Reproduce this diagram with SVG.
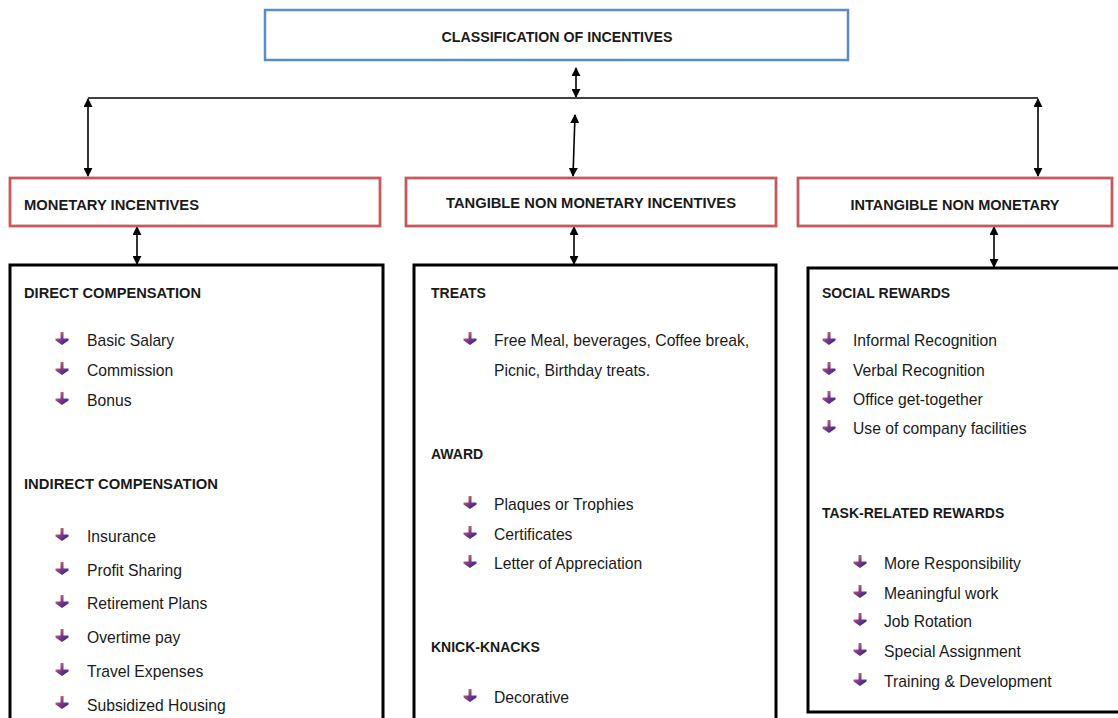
<svg xmlns="http://www.w3.org/2000/svg" width="1118" height="718" viewBox="0 0 1118 718">
<defs>
<marker id="ah" viewBox="0 0 10 10" refX="9" refY="5" markerWidth="9" markerHeight="9" orient="auto-start-reverse" markerUnits="userSpaceOnUse">
<path d="M0,0 L10,5 L0,10 z" fill="#000"/>
</marker>
<linearGradient id="bg" x1="0" y1="0" x2="1" y2="1">
<stop offset="0" stop-color="#f0a030"/>
<stop offset="0.45" stop-color="#8a3a8a"/>
<stop offset="1" stop-color="#202090"/>
</linearGradient>
<symbol id="bul" viewBox="-7 -9 14 14" overflow="visible">
<path d="M-1.5,-9 H1.5 V-2.5 H6.5 V-0.5 L0,4 L-6.5,-0.5 V-2.5 H-1.5 Z" fill="url(#bg)"/>
</symbol>
</defs>
<style>
.h{font-family:"Liberation Sans",Arial,sans-serif;font-weight:bold;font-size:14px;fill:#1a1a1a}
.t{font-family:"Liberation Sans",Arial,sans-serif;font-size:15.7px;fill:#1a1a1a}
.blue{fill:#fff;stroke:#5b8ac9;stroke-width:2.5}
.red{fill:#fff;stroke:#c9585a;stroke-width:2.8}
.blk{fill:#fff;stroke:#000;stroke-width:3}
.c{stroke:#000;stroke-width:1.6;fill:none}
</style>
<rect width="1118" height="718" fill="#fff"/>

<g id="connectors">
<line class="c" x1="88" y1="98" x2="1038" y2="98"/>
<line class="c" x1="576" y1="68" x2="576" y2="97" marker-start="url(#ah)" marker-end="url(#ah)"/>
<line class="c" x1="88" y1="99" x2="88" y2="176" marker-start="url(#ah)" marker-end="url(#ah)"/>
<line class="c" x1="1038" y1="99" x2="1038" y2="176" marker-start="url(#ah)" marker-end="url(#ah)"/>
<line class="c" x1="575" y1="115" x2="573" y2="176" marker-start="url(#ah)" marker-end="url(#ah)"/>
<line class="c" x1="137" y1="227" x2="137" y2="264" marker-start="url(#ah)" marker-end="url(#ah)"/>
<line class="c" x1="574" y1="227" x2="574" y2="264" marker-start="url(#ah)" marker-end="url(#ah)"/>
<line class="c" x1="994" y1="227" x2="994" y2="267" marker-start="url(#ah)" marker-end="url(#ah)"/>
</g>

<g id="root">
<rect class="blue" x="265" y="10" width="583" height="50"/>
<text class="h" x="557" y="42" text-anchor="middle" textLength="231" lengthAdjust="spacingAndGlyphs">CLASSIFICATION OF INCENTIVES</text>
</g>

<g id="monetary">
<rect class="red" x="10" y="178" width="370" height="48"/>
<text class="h" x="24" y="210" textLength="175" lengthAdjust="spacingAndGlyphs">MONETARY INCENTIVES</text>
</g>

<g id="tangible">
<rect class="red" x="406" y="178" width="370" height="48"/>
<text class="h" x="591" y="208" text-anchor="middle" textLength="290" lengthAdjust="spacingAndGlyphs">TANGIBLE NON MONETARY INCENTIVES</text>
</g>

<g id="intangible">
<rect class="red" x="798" y="178" width="314" height="48"/>
<text class="h" x="955" y="210" text-anchor="middle" textLength="209" lengthAdjust="spacingAndGlyphs">INTANGIBLE NON MONETARY</text>
</g>

<g id="monetary-list">
<rect class="blk" x="10" y="265" width="373" height="455"/>
<text class="h" x="24" y="298" textLength="177" lengthAdjust="spacingAndGlyphs">DIRECT COMPENSATION</text>
<use href="#bul" x="55" y="332" width="14" height="14"/><text class="t" x="87" y="346">Basic Salary</text>
<use href="#bul" x="55" y="362" width="14" height="14"/><text class="t" x="87" y="376">Commission</text>
<use href="#bul" x="55" y="392" width="14" height="14"/><text class="t" x="87" y="406">Bonus</text>
<text class="h" x="24" y="489" textLength="194" lengthAdjust="spacingAndGlyphs">INDIRECT COMPENSATION</text>
<use href="#bul" x="55" y="528" width="14" height="14"/><text class="t" x="87" y="542">Insurance</text>
<use href="#bul" x="55" y="562" width="14" height="14"/><text class="t" x="87" y="576">Profit Sharing</text>
<use href="#bul" x="55" y="595" width="14" height="14"/><text class="t" x="87" y="609">Retirement Plans</text>
<use href="#bul" x="55" y="629" width="14" height="14"/><text class="t" x="87" y="643">Overtime pay</text>
<use href="#bul" x="55" y="663" width="14" height="14"/><text class="t" x="87" y="677">Travel Expenses</text>
<use href="#bul" x="55" y="696" width="14" height="14"/><text class="t" x="87" y="711">Subsidized Housing</text>
</g>

<g id="tangible-list">
<rect class="blk" x="414" y="265" width="362" height="455"/>
<text class="h" x="431" y="298">TREATS</text>
<use href="#bul" x="463" y="332" width="14" height="14"/><text class="t" x="494" y="346">Free Meal, beverages, Coffee break,</text>
<text class="t" x="494" y="376">Picnic, Birthday treats.</text>
<text class="h" x="431" y="459">AWARD</text>
<use href="#bul" x="463" y="496" width="14" height="14"/><text class="t" x="494" y="510">Plaques or Trophies</text>
<use href="#bul" x="463" y="526" width="14" height="14"/><text class="t" x="494" y="540">Certificates</text>
<use href="#bul" x="463" y="555" width="14" height="14"/><text class="t" x="494" y="569">Letter of Appreciation</text>
<text class="h" x="431" y="652">KNICK-KNACKS</text>
<use href="#bul" x="463" y="689" width="14" height="14"/><text class="t" x="494" y="703">Decorative</text>
</g>

<g id="intangible-list">
<rect class="blk" x="808" y="268" width="312" height="444"/>
<text class="h" x="822" y="298">SOCIAL REWARDS</text>
<use href="#bul" x="822" y="332" width="14" height="14"/><text class="t" x="853" y="346">Informal Recognition</text>
<use href="#bul" x="822" y="362" width="14" height="14"/><text class="t" x="853" y="376">Verbal Recognition</text>
<use href="#bul" x="822" y="391" width="14" height="14"/><text class="t" x="853" y="405">Office get-together</text>
<use href="#bul" x="822" y="420" width="14" height="14"/><text class="t" x="853" y="434">Use of company facilities</text>
<text class="h" x="822" y="518">TASK-RELATED REWARDS</text>
<use href="#bul" x="853" y="555" width="14" height="14"/><text class="t" x="884" y="569">More Responsibility</text>
<use href="#bul" x="853" y="585" width="14" height="14"/><text class="t" x="884" y="599">Meaningful work</text>
<use href="#bul" x="853" y="613" width="14" height="14"/><text class="t" x="884" y="627">Job Rotation</text>
<use href="#bul" x="853" y="643" width="14" height="14"/><text class="t" x="884" y="657">Special Assignment</text>
<use href="#bul" x="853" y="673" width="14" height="14"/><text class="t" x="884" y="687">Training &amp; Development</text>
</g>
</svg>
